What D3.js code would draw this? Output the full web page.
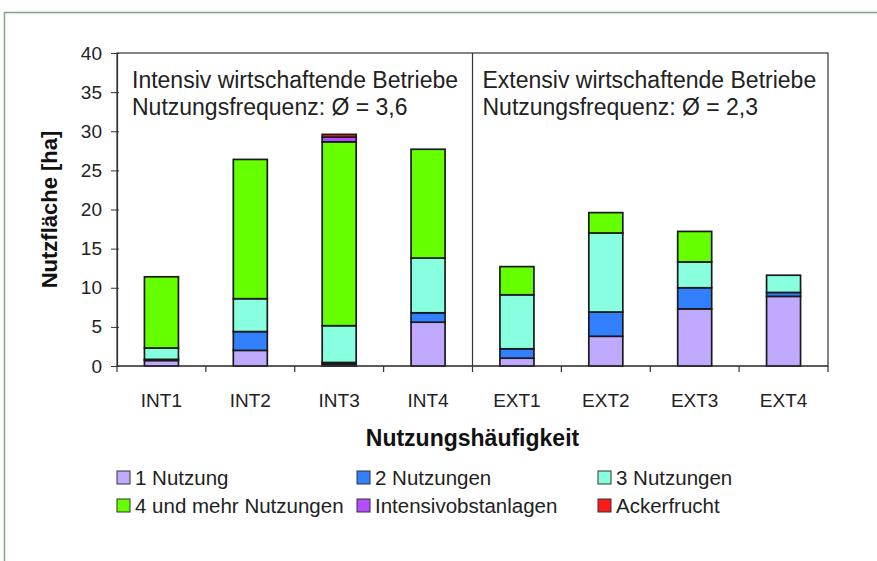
<!DOCTYPE html>
<html>
  <head>
    <meta charset="utf-8" />
    <style>
      body,
      html {
        margin: 0;
        padding: 0;
        background: #fff;
        font-family: "Liberation Sans", Arial, sans-serif;
        overflow: hidden;
      }
    </style>
    <script src="https://d3js.org/d3.v7.min.js"></script>
    <title>Nutzfläche</title>
  </head>

  <body>
    <svg id="chart" width="877" height="561"></svg>

    <script>
      var categories = ["INT1", "INT2", "INT3", "INT4", "EXT1", "EXT2", "EXT3", "EXT4"];
      var seriesNames = [
        "1 Nutzung",
        "2 Nutzungen",
        "3 Nutzungen",
        "4 und mehr Nutzungen",
        "Intensivobstanlagen",
        "Ackerfrucht",
      ];
      var nutzung1 = [0.7, 2.0, 0.25, 5.6, 1.0, 3.8, 7.3, 8.9];
      var nutzung2 = [0.15, 2.4, 0.2, 1.2, 1.2, 3.1, 2.7, 0.5];
      var nutzung3 = [1.45, 4.2, 4.7, 7.0, 6.9, 10.1, 3.3, 2.2];
      var nutzung4 = [9.1, 17.8, 23.5, 13.9, 3.6, 2.6, 3.9, 0];
      var obst = [0, 0, 0.6, 0, 0, 0, 0, 0];
      var acker = [0, 0, 0.35, 0, 0, 0, 0, 0];
      var yTicks = [0, 5, 10, 15, 20, 25, 30, 35, 40];
      var colors = ["#c0aaff", "#3380ff", "#88ffdf", "#66ff00", "#b44cff", "#ff1a1a"];

      var svg = d3.select("#chart");

      // outer frame of the figure
      svg
        .append("rect")
        .attr("x", 4.5)
        .attr("y", 12.5)
        .attr("width", 900)
        .attr("height", 600)
        .style("fill", "none")
        .style("stroke", "#7da87d")
        .style("stroke-width", "1.5px");

      var plotLeft = 117,
        plotRight = 828,
        plotTop = 53,
        plotBottom = 366;

      var table = categories.map(function (c, i) {
        return {
          name: c,
          s0: nutzung1[i],
          s1: nutzung2[i],
          s2: nutzung3[i],
          s3: nutzung4[i],
          s4: obst[i],
          s5: acker[i],
        };
      });
      var keys = ["s0", "s1", "s2", "s3", "s4", "s5"];
      var stacked = d3.stack().keys(keys)(table);

      var xScale = d3.scaleBand().domain(categories).range([plotLeft, plotRight]).padding(0);
      var yScale = d3.scaleLinear().domain([0, 40]).range([plotBottom, plotTop]);

      // plot box
      svg
        .append("rect")
        .attr("x", plotLeft)
        .attr("y", plotTop)
        .attr("width", plotRight - plotLeft)
        .attr("height", plotBottom - plotTop)
        .style("fill", "none")
        .style("stroke", "#333")
        .style("stroke-width", "1.2px");

      // divider between intensive and extensive
      var divX = xScale("EXT1");
      svg
        .append("line")
        .attr("x1", divX)
        .attr("x2", divX)
        .attr("y1", plotTop)
        .attr("y2", plotBottom)
        .style("stroke", "#333")
        .style("stroke-width", "1.2px");

      // bars
      var barW = 34;
      var layers = svg
        .selectAll("g.layer")
        .data(stacked)
        .enter()
        .append("g")
        .attr("class", "layer")
        .style("fill", function (d, i) {
          return colors[i];
        });

      layers
        .selectAll("rect")
        .data(function (d) {
          return d.filter(function (p) {
            return p[1] - p[0] > 0;
          });
        })
        .enter()
        .append("rect")
        .attr("x", function (d) {
          return xScale(d.data.name) + xScale.bandwidth() / 2 - barW / 2;
        })
        .attr("y", function (d) {
          return yScale(d[1]);
        })
        .attr("width", barW)
        .attr("height", function (d) {
          return yScale(d[0]) - yScale(d[1]);
        })
        .style("stroke", "#1a1a1a")
        .style("stroke-width", "1.7px");

      // y axis
      var yAxis = d3.axisLeft(yScale).tickValues(yTicks).tickSize(6).tickPadding(9);
      var gy = svg.append("g").attr("transform", "translate(" + plotLeft + ",0)").call(yAxis);
      gy.select(".domain").style("stroke", "#333").style("stroke-width", "1.2px");
      gy.selectAll(".tick line").style("stroke", "#333").attr("x2", -6).attr("x1", 2);
      gy.selectAll("text")
        .style("font-family", "Liberation Sans, Arial, sans-serif")
        .style("font-size", "19px")
        .style("fill", "#222");

      // x axis: ticks at category boundaries, labels at centers
      var gx = svg.append("g").attr("transform", "translate(0," + plotBottom + ")");
      gx.append("line")
        .attr("x1", plotLeft)
        .attr("x2", plotRight)
        .style("stroke", "#333")
        .style("stroke-width", "1.2px");
      var bounds = categories.map(function (c) {
        return xScale(c);
      });
      bounds.push(plotRight);
      gx.selectAll("line.tk")
        .data(bounds)
        .enter()
        .append("line")
        .attr("class", "tk")
        .attr("x1", function (d) {
          return d;
        })
        .attr("x2", function (d) {
          return d;
        })
        .attr("y1", 0)
        .attr("y2", 6)
        .style("stroke", "#333")
        .style("stroke-width", "1.2px");
      gx.selectAll("text")
        .data(categories)
        .enter()
        .append("text")
        .attr("x", function (d) {
          return xScale(d) + xScale.bandwidth() / 2;
        })
        .attr("y", 41)
        .attr("text-anchor", "middle")
        .style("font-size", "19px")
        .style("fill", "#222")
        .text(function (d) {
          return d;
        });

      // axis titles
      svg
        .append("text")
        .attr("transform", "translate(57," + (plotTop + plotBottom) / 2 + ") rotate(-90)")
        .attr("text-anchor", "middle")
        .style("font-size", "22px")
        .style("font-weight", "bold")
        .style("fill", "#111")
        .text("Nutzfläche [ha]");

      svg
        .append("text")
        .attr("x", (plotLeft + plotRight) / 2)
        .attr("y", 446)
        .attr("text-anchor", "middle")
        .style("font-size", "23px")
        .style("font-weight", "bold")
        .style("fill", "#111")
        .text("Nutzungshäufigkeit");

      // panel annotations
      var notes = [
        { x: plotLeft + 15, lines: ["Intensiv wirtschaftende Betriebe", "Nutzungsfrequenz: Ø = 3,6"] },
        { x: divX + 10, lines: ["Extensiv wirtschaftende Betriebe", "Nutzungsfrequenz: Ø = 2,3"] },
      ];
      notes.forEach(function (n) {
        n.lines.forEach(function (l, i) {
          svg
            .append("text")
            .attr("x", n.x)
            .attr("y", 88 + i * 27)
            .style("font-size", "23px")
            .style("fill", "#222")
            .text(l);
        });
      });

      // legend
      var legX = [117, 357, 598];
      var legend = svg
        .selectAll("g.leg")
        .data(seriesNames)
        .enter()
        .append("g")
        .attr("class", "leg")
        .attr("transform", function (d, i) {
          return "translate(" + legX[i % 3] + "," + (478 + Math.floor(i / 3) * 28) + ")";
        });
      legend
        .append("rect")
        .attr("x", 0)
        .attr("y", -7)
        .attr("width", 13)
        .attr("height", 13)
        .style("fill", function (d, i) {
          return colors[i];
        })
        .style("stroke", "#333")
        .style("stroke-width", "1px");
      legend
        .append("text")
        .attr("x", 18)
        .attr("y", 7)
        .style("font-size", "20.5px")
        .style("fill", "#222")
        .text(function (d) {
          return d;
        });
    </script>
  </body>
</html>
